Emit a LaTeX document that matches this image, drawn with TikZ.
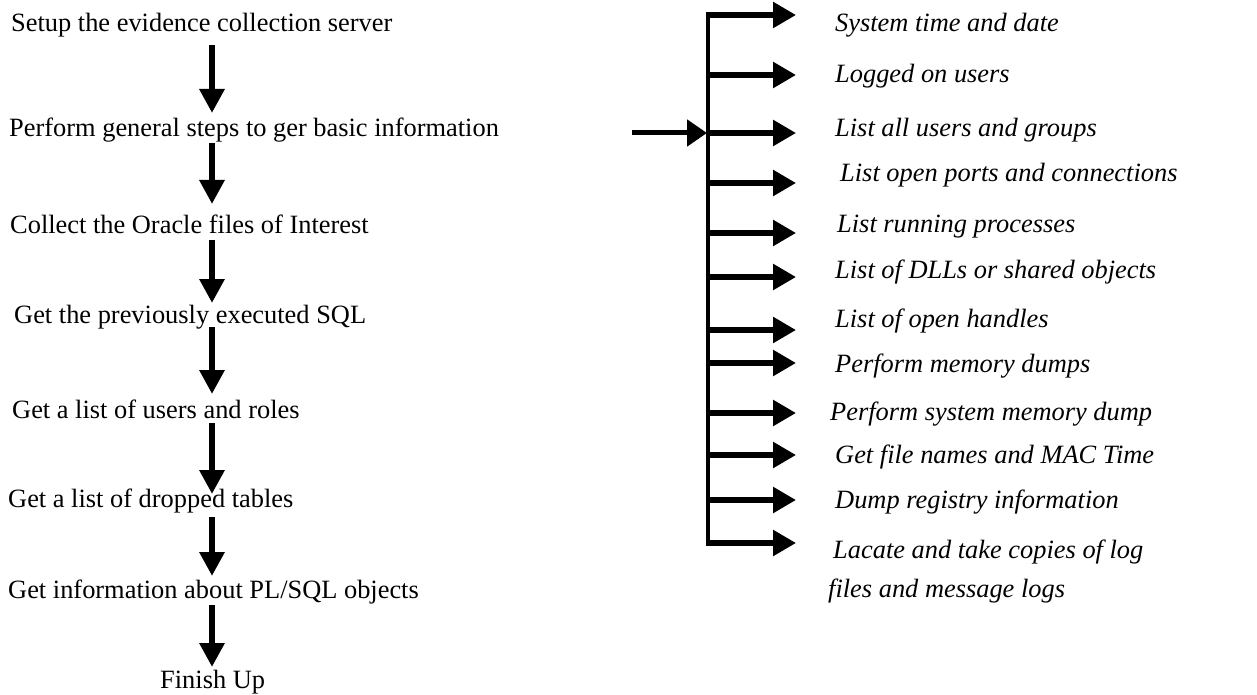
\documentclass[tikz,border=0pt]{standalone}
\usepackage{fontspec}
\setmainfont{Liberation Serif}
\usetikzlibrary{arrows.meta}
\begin{document}
\begin{tikzpicture}[x=1pt,y=-1pt,
  lbl/.style={anchor=base west,inner sep=0pt,font=\fontsize{26.4}{30}\selectfont},
  ilbl/.style={lbl,font=\fontsize{26.4}{30}\selectfont\itshape},
  downarr/.style={line width=6pt,-{Triangle[length=24pt,width=24pt]}},
  rarr/.style={line width=5.5pt,-{Triangle[length=23pt,width=25pt]}},
  inarr/.style={line width=5pt,-{Triangle[length=20pt,width=26pt]}},
  bar/.style={line width=3.5pt}]
\useasboundingbox (0,0) rectangle (1257,695);
\fill[white] (0,0) rectangle (1257,695);
% left column
\node[lbl] (l1) at (11,32) {Setup the evidence collection server};
\node[lbl] (l2) at (9,137) {Perform general steps to ger basic information};
\node[lbl] (l3) at (10,233) {Collect the Oracle files of Interest};
\node[lbl] (l4) at (14,323) {Get the previously executed SQL};
\node[lbl] (l5) at (12,418) {Get a list of users and roles};
\node[lbl] (l6) at (8,507) {Get a list of dropped tables};
\node[lbl] (l7) at (8,598) {Get information about PL/SQL objects};
\node[lbl] (l8) at (160,688) {Finish Up};
\foreach \i/\a/\b in {1/45/113,2/143/204,3/240/303,4/327/394,5/423/494,6/517/576,7/605/667}{
  \coordinate (ds\i) at (212,\a);
  \coordinate (de\i) at (212,\b);
  \draw[downarr] (ds\i) -- (de\i);
}
% right column
\coordinate (btop) at (708,13);
\coordinate (bbot) at (708,545);
\draw[bar] (btop) -- (bbot);
\coordinate (inS) at (632,133);
\coordinate (inE) at (707,133);
\draw[inarr] (inS) -- (inE);
\foreach \i/\y in {1/15,2/75,3/133,4/183,5/233,6/277,7/330,8/363,9/413,10/455,11/500,12/543}{
  \coordinate (rs\i) at (706,\y);
  \coordinate (re\i) at (796,\y);
  \draw[rarr] (rs\i) -- (re\i);
}
\node[ilbl] (r1) at (835,32) {System time and date};
\node[ilbl] (r2) at (835,83) {Logged on users};
\node[ilbl] (r3) at (835,137) {List all users and groups};
\node[ilbl] (r4) at (840,182) {List open ports and connections};
\node[ilbl] (r5) at (837,232) {List running processes};
\node[ilbl] (r6) at (835,278) {List of DLLs or shared objects};
\node[ilbl] (r7) at (835,327) {List of open handles};
\node[ilbl] (r8) at (835,372) {Perform memory dumps};
\node[ilbl] (r9) at (830,420) {Perform system memory dump};
\node[ilbl] (r10) at (835,463) {Get file names and MAC Time};
\node[ilbl] (r11) at (835,508) {Dump registry information};
\node[ilbl] (r12) at (833,558) {Lacate and take copies of log};
\node[ilbl] (r13) at (828,597) {files and message logs};
\end{tikzpicture}
\end{document}
